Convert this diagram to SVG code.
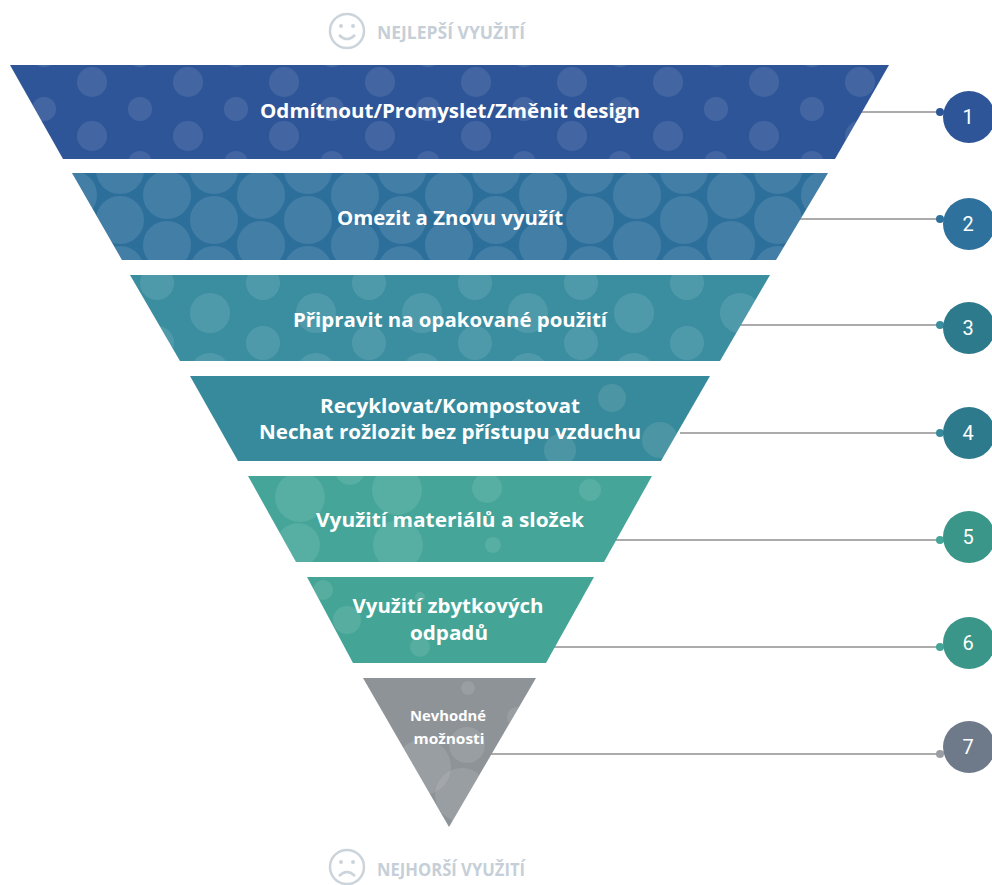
<svg xmlns="http://www.w3.org/2000/svg" width="992" height="885" viewBox="0 0 992 885">
<style>
.lbl{font-family:"Open Sans","Roboto","Liberation Sans",sans-serif;font-weight:bold;font-size:20px;fill:#ffffff;text-anchor:middle}
.lbl7{font-family:"Open Sans","Roboto","Liberation Sans",sans-serif;font-weight:bold;font-size:14px;fill:#ffffff;text-anchor:middle}
.num{font-family:"Roboto","Noto Sans",sans-serif;font-size:20px;fill:#ffffff;text-anchor:middle}
.hdr{font-family:"Open Sans","Roboto","Liberation Sans",sans-serif;font-weight:bold;font-size:17px;fill:#c6cfd7}
.conn{stroke:#ababab;stroke-width:2;fill:none}
.bub{fill:#ffffff;fill-opacity:0.1}
.face{fill:none;stroke:#ccd4db;stroke-width:2.5}
</style>
<defs>
<pattern id="p1" patternUnits="userSpaceOnUse" x="44" y="55" width="96" height="54">
<circle cx="0" cy="0" r="12" class="bub"/><circle cx="96" cy="0" r="12" class="bub"/>
<circle cx="0" cy="54" r="12" class="bub"/><circle cx="96" cy="54" r="12" class="bub"/>
<circle cx="48" cy="27" r="15" class="bub"/>
</pattern>
<pattern id="p2" patternUnits="userSpaceOnUse" x="167" y="195" width="94" height="50">
<circle cx="0" cy="0" r="24" class="bub"/><circle cx="94" cy="0" r="24" class="bub"/>
<circle cx="0" cy="50" r="24" class="bub"/><circle cx="94" cy="50" r="24" class="bub"/>
<circle cx="47" cy="25" r="24" class="bub"/>
</pattern>
<pattern id="p3" patternUnits="userSpaceOnUse" x="263" y="283" width="106" height="60">
<circle cx="0" cy="0" r="17" class="bub"/><circle cx="106" cy="0" r="17" class="bub"/>
<circle cx="0" cy="60" r="17" class="bub"/><circle cx="106" cy="60" r="17" class="bub"/>
<circle cx="53" cy="30" r="20" class="bub"/>
</pattern>
<clipPath id="c5"><polygon points="248,476 652,476 604,562 296,562"/></clipPath>
<clipPath id="c6"><polygon points="307,577 594,577 546,663 353,663"/></clipPath>
<clipPath id="c7"><polygon points="363,678 536,678 449,827"/></clipPath>
<clipPath id="c4"><polygon points="190,376 710,376 661,461 238,461"/></clipPath>
</defs>

<g id="header-best">
<circle cx="347" cy="31" r="17" class="face"/>
<circle cx="341" cy="26" r="2" fill="#ccd4db"/><circle cx="353" cy="26" r="2" fill="#ccd4db"/>
<path d="M339,35 Q347,43 355,35" class="face"/>
<text x="377" y="39" class="hdr" textLength="148" lengthAdjust="spacingAndGlyphs">NEJLEPŠÍ VYUŽITÍ</text>
</g>

<g id="connectors">
<line x1="850" y1="112" x2="940" y2="112" class="conn"/>
<line x1="790" y1="219" x2="940" y2="219" class="conn"/>
<line x1="735" y1="325" x2="940" y2="325" class="conn"/>
<line x1="680" y1="433" x2="940" y2="433" class="conn"/>
<line x1="610" y1="540" x2="940" y2="540" class="conn"/>
<line x1="550" y1="647" x2="940" y2="647" class="conn"/>
<line x1="490" y1="754" x2="940" y2="754" class="conn"/>
</g>

<g id="level1">
<polygon points="10,65 889,65 835,159 63,159" fill="#2e5597"/>
<polygon points="10,65 889,65 835,159 63,159" fill="url(#p1)"/>
<text x="450" y="118" class="lbl" textLength="380" lengthAdjust="spacingAndGlyphs">Odmítnout/Promyslet/Změnit design</text>
</g>
<g id="level2">
<polygon points="72,173 828,173 776,260 122,260" fill="#2d6f9b"/>
<polygon points="72,173 828,173 776,260 122,260" fill="url(#p2)"/>
<text x="450" y="225" class="lbl" textLength="226" lengthAdjust="spacingAndGlyphs">Omezit a Znovu využít</text>
</g>
<g id="level3">
<polygon points="130,275 770,275 720,361 180,361" fill="#3a8ea0"/>
<polygon points="130,275 770,275 720,361 180,361" fill="url(#p3)"/>
<text x="450" y="327" class="lbl" textLength="314" lengthAdjust="spacingAndGlyphs">Připravit na opakované použití</text>
</g>
<g id="level4">
<polygon points="190,376 710,376 661,461 238,461" fill="#378a9b"/>
<g clip-path="url(#c4)">
<circle cx="612" cy="398" r="14" class="bub" fill-opacity="0.06"/>
<circle cx="660" cy="440" r="18" class="bub" fill-opacity="0.05"/>
<circle cx="560" cy="450" r="16" class="bub" fill-opacity="0.05"/>
</g>
<text x="450" y="413" class="lbl" textLength="260" lengthAdjust="spacingAndGlyphs">Recyklovat/Kompostovat</text>
<text x="450" y="439" class="lbl" textLength="382" lengthAdjust="spacingAndGlyphs">Nechat rožlozit bez přístupu vzduchu</text>
</g>
<g id="level5">
<polygon points="248,476 652,476 604,562 296,562" fill="#45a598"/>
<g clip-path="url(#c5)">
<circle cx="300" cy="497" r="25" class="bub"/>
<circle cx="397" cy="490" r="25" class="bub"/>
<circle cx="487" cy="488" r="15" class="bub"/>
<circle cx="590" cy="490" r="11" class="bub"/>
<circle cx="298" cy="545" r="22" class="bub"/>
<circle cx="398" cy="545" r="25" class="bub"/>
<circle cx="493" cy="545" r="8" class="bub"/>
<circle cx="350" cy="470" r="15" class="bub"/>
</g>
<text x="450" y="527" class="lbl" textLength="268" lengthAdjust="spacingAndGlyphs">Využití materiálů a složek</text>
</g>
<g id="level6">
<polygon points="307,577 594,577 546,663 353,663" fill="#44a596"/>
<g clip-path="url(#c6)">
<circle cx="323" cy="590" r="10" class="bub"/>
<circle cx="420" cy="597" r="5" class="bub"/>
<circle cx="420" cy="647" r="10" class="bub"/>
<circle cx="347" cy="620" r="14" class="bub"/>
</g>
<text x="448" y="613" class="lbl" textLength="191" lengthAdjust="spacingAndGlyphs">Využití zbytkových</text>
<text x="449" y="640" class="lbl" textLength="78" lengthAdjust="spacingAndGlyphs">odpadů</text>
</g>
<g id="level7">
<polygon points="363,678 536,678 449,827" fill="#8e9398"/>
<g clip-path="url(#c7)">
<circle cx="468" cy="688" r="7" class="bub"/>
<circle cx="423" cy="767" r="28" class="bub"/>
<circle cx="462" cy="795" r="27" class="bub"/>
<circle cx="517" cy="717" r="10" class="bub"/>
<circle cx="467" cy="745" r="18" class="bub"/>
</g>
<text x="448" y="721" class="lbl7" textLength="76" lengthAdjust="spacingAndGlyphs">Nevhodné</text>
<text x="449" y="744" class="lbl7" textLength="71" lengthAdjust="spacingAndGlyphs">možnosti</text>
</g>

<g id="badge1"><circle cx="940" cy="112" r="4" fill="#2e5597"/><circle cx="969" cy="117" r="26" fill="#2e5597"/><text x="968" y="124" class="num">1</text></g>
<g id="badge2"><circle cx="940" cy="219" r="4" fill="#2e719c"/><circle cx="969" cy="224" r="26" fill="#2e719c"/><text x="968" y="231" class="num">2</text></g>
<g id="badge3"><circle cx="940" cy="325" r="4" fill="#3a8ea0"/><circle cx="969" cy="328" r="26" fill="#2c7a8c"/><text x="968" y="335" class="num">3</text></g>
<g id="badge4"><circle cx="940" cy="433" r="4" fill="#378a9b"/><circle cx="969" cy="433" r="26" fill="#2c7a8c"/><text x="968" y="440" class="num">4</text></g>
<g id="badge5"><circle cx="940" cy="540" r="4" fill="#45a598"/><circle cx="969" cy="537" r="26" fill="#3a9688"/><text x="968" y="544" class="num">5</text></g>
<g id="badge6"><circle cx="940" cy="647" r="4" fill="#45a598"/><circle cx="969" cy="643" r="26" fill="#3a9688"/><text x="968" y="650" class="num">6</text></g>
<g id="badge7"><circle cx="940" cy="754" r="4" fill="#9a9ea3"/><circle cx="969" cy="747" r="26" fill="#6e7a8a"/><text x="968" y="754" class="num">7</text></g>

<g id="header-worst">
<circle cx="347" cy="867" r="17" class="face"/>
<circle cx="341" cy="862" r="2" fill="#ccd4db"/><circle cx="353" cy="862" r="2" fill="#ccd4db"/>
<path d="M339,876 Q347,868 355,876" class="face"/>
<text x="377" y="876" class="hdr" textLength="148" lengthAdjust="spacingAndGlyphs">NEJHORŠÍ VYUŽITÍ</text>
</g>
</svg>
